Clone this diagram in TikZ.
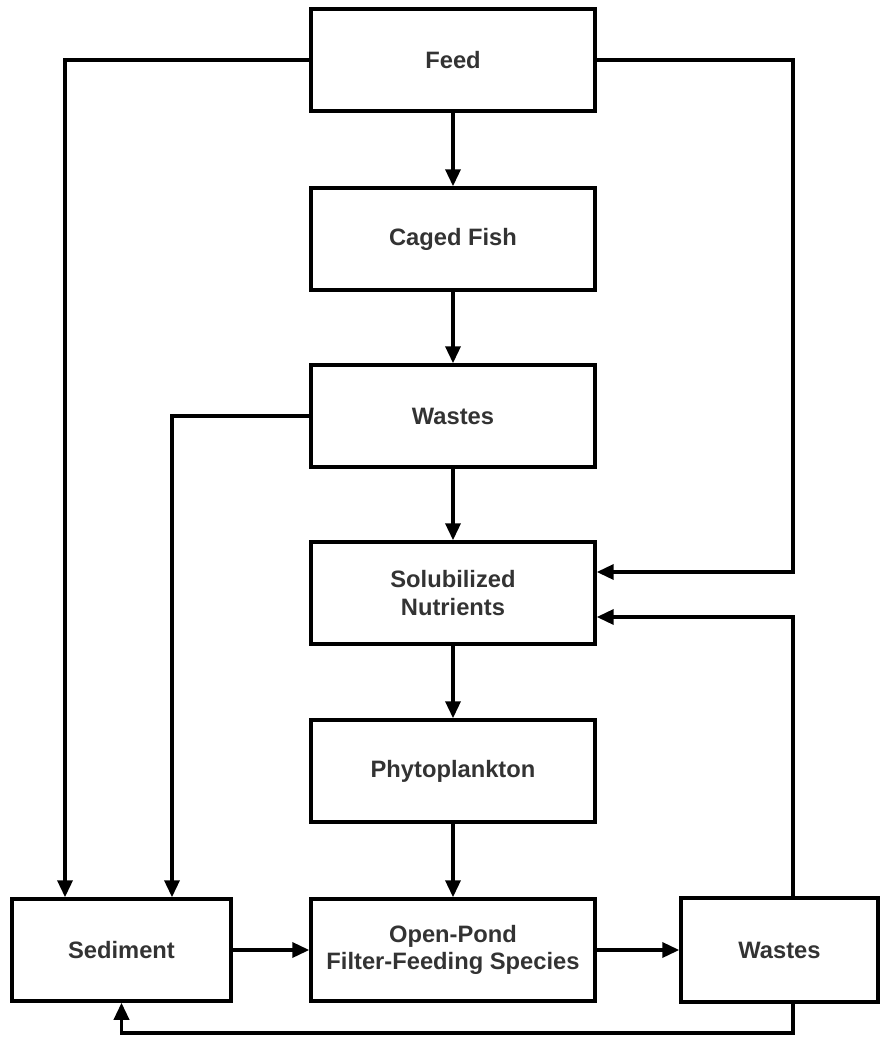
\documentclass[tikz,border=0pt]{standalone}
\usepackage{fontspec}
\setmainfont{Liberation Sans}
\usetikzlibrary{arrows.meta, positioning}

\begin{document}
\begin{tikzpicture}[x=0.02cm, y=-0.02cm, line width=2pt, >={Triangle[length=0.34cm, width=0.3cm]},
    blk/.style={draw, rectangle, minimum width=5.68cm, minimum height=2.04cm, inner sep=0pt, align=center,
        text=black!80, font=\fontsize{13.5}{15.5}\selectfont\bfseries}]
        \useasboundingbox (0, 0) rectangle (884, 1040);

        \node[blk] at (453, 60) (feed) {Feed};
        \node[blk] at (453, 239) (fish) {Caged Fish};
        \node[blk] at (453, 416) (waste1) {Wastes};
        \node[blk] at (453, 593) (solub) {Solubilized\\Nutrients};
        \node[blk] at (453, 771) (phyto) {Phytoplankton};
        \node[blk] at (453, 950) (pond) {Open-Pond\\Filter-Feeding Species};
        \node[blk, minimum width=4.38cm] at (121.5, 950) (sediment) {Sediment};
        \node[blk, minimum width=3.94cm, minimum height=2.08cm] at (779.5, 950) (waste2) {Wastes};
        \coordinate (wbend) at (793, 1033);

        \draw[->] (feed) -- (fish);
        \draw[->] (fish) -- (waste1);
        \draw[->] (waste1) -- (solub);
        \draw[->] (solub) -- (phyto);
        \draw[->] (phyto) -- (pond);
        \draw[->] (sediment) -- (pond);
        \draw[->] (pond) -- (waste2);

        \draw[->] (feed.west) -| ([xshift=-1.13cm]sediment.north);
        \draw[->] (waste1.west) -| ([xshift=1.01cm]sediment.north);
        \draw[->] (feed.east) -- (feed.east -| wbend) |- ([yshift=0.42cm]solub.east);
        \draw[->] (waste2.north -| wbend) |- ([yshift=-0.48cm]solub.east);
        \draw[->] (waste2.south -| wbend) -- (wbend) -| (sediment.south);
\end{tikzpicture}
\end{document}
